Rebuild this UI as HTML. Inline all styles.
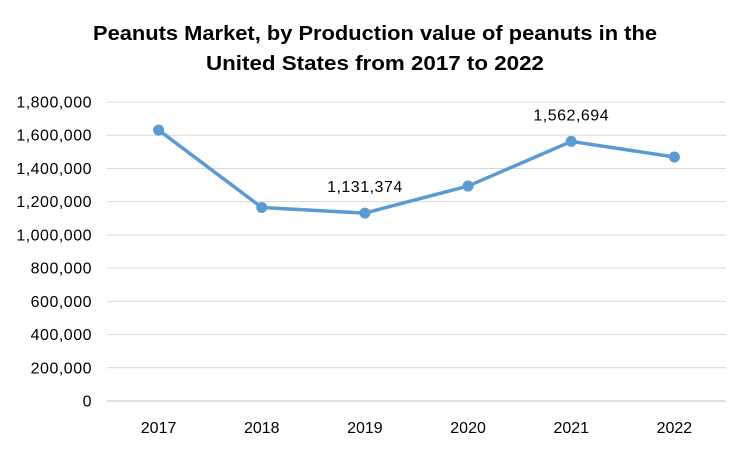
<!DOCTYPE html>
<html><head><meta charset="utf-8"><style>
body{margin:0;background:#fff;}
svg text{font-family:"Liberation Sans",Calibri,sans-serif;}
</style></head><body>
<svg width="750" height="450" viewBox="0 0 750 450" id="c">
<text x="375" y="40" text-anchor="middle" font-size="20" font-weight="bold" fill="#000" textLength="564" lengthAdjust="spacingAndGlyphs">Peanuts Market, by Production value of peanuts in the</text>
<text x="375" y="70" text-anchor="middle" font-size="20" font-weight="bold" fill="#000" textLength="338" lengthAdjust="spacingAndGlyphs">United States from 2017 to 2022</text>
<g id="grid"></g>
<g id="yax"></g>
<g id="xax"></g>
<g id="series"></g>
</svg>
<script>
const categories=["2017","2018","2019","2020","2021","2022"];
const values=[1631000,1165000,1131374,1294000,1562694,1469000];
const labelShown=[false,false,true,false,true,false];
const yTicks=[0,200000,400000,600000,800000,1000000,1200000,1400000,1600000,1800000];
const NS="http://www.w3.org/2000/svg";
const L=107,R=726,T=102,B=401,yMax=1800000;
const band=(R-L)/categories.length;
const x=i=>L+band*(i+0.5);
const y=v=>B-(v/yMax)*(B-T);
function mk(t,a,p){const e=document.createElementNS(NS,t);for(const k in a)e.setAttribute(k,a[k]);p.appendChild(e);return e;}
const fmt=v=>v.toLocaleString('en-US');
const grid=document.getElementById('grid'),yax=document.getElementById('yax'),xax=document.getElementById('xax'),s=document.getElementById('series');
yTicks.forEach(v=>{
 const g=mk('line',{x1:L,x2:R,y1:y(v),y2:y(v),stroke:v===0?'#bfbfbf':'#d9d9d9','stroke-width':1},grid);
 
 
 const t=mk('text',{x:92,y:y(v)+5.5,'text-anchor':'end','font-size':16,'letter-spacing':0.5,fill:'#000'},yax);
 t.textContent=fmt(v);
 
 
});
categories.forEach((c,i)=>{
 const t=mk('text',{x:x(i),y:433,'text-anchor':'middle','font-size':16,fill:'#000'},xax);
 t.textContent=c;
 
 
});
const pl=mk('polyline',{points:values.map((v,i)=>x(i)+','+y(v)).join(' '),fill:'none',stroke:'#5b9bd5','stroke-width':3.5,'stroke-linejoin':'round'},s);


values.forEach((v,i)=>{
 const c=mk('circle',{cx:x(i),cy:y(v),r:5.5,fill:'#5b9bd5'},s);
 
 
 if(labelShown[i]){
  const t=mk('text',{x:x(i),y:y(v)-21,'text-anchor':'middle','font-size':16,'letter-spacing':0.5,fill:'#000'},s);
  t.textContent=fmt(v);
  
  
 }
});
</script>
</body></html>
